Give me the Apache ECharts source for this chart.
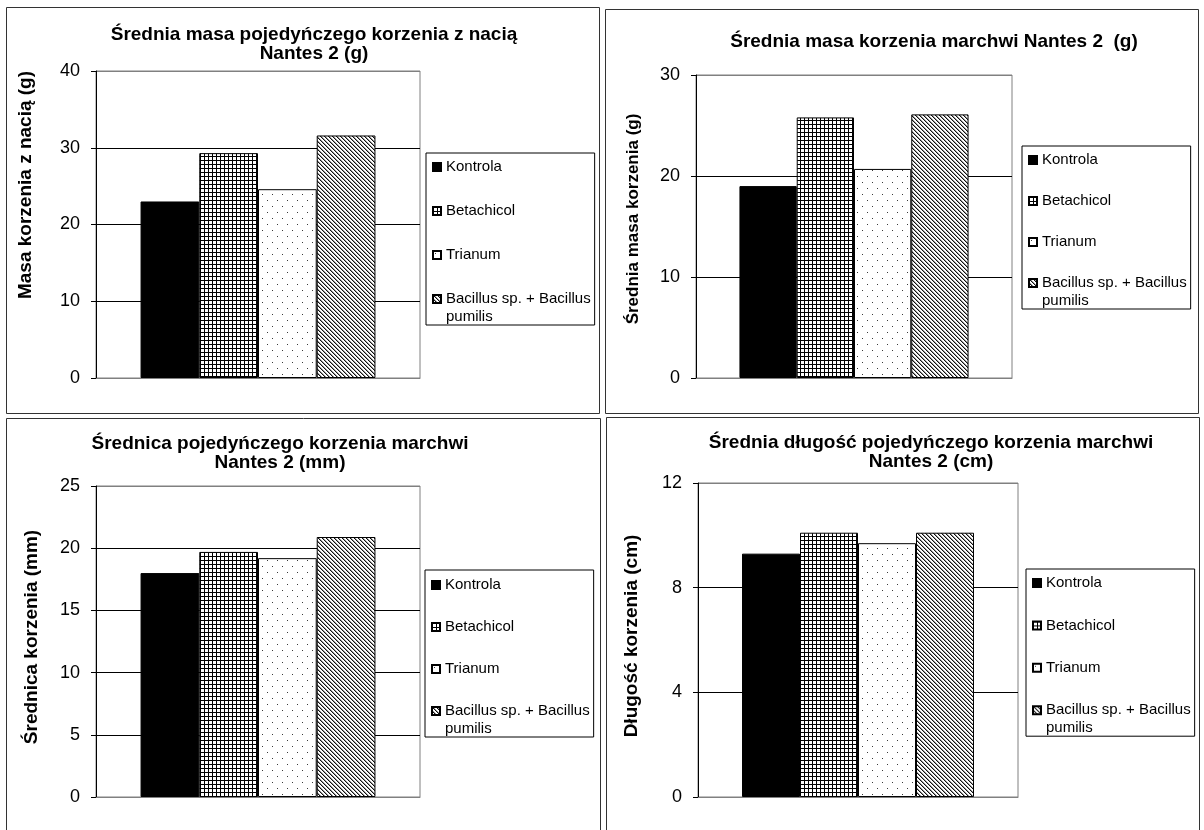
<!DOCTYPE html>
<html>
<head>
<meta charset="utf-8">
<script src="https://cdn.jsdelivr.net/npm/echarts@6/dist/echarts.min.js"></script>
<style>
  html, body { margin: 0; padding: 0; background: #fff; }
  #chart { width: 1204px; height: 830px; }
</style>
</head>
<body>
<div id="chart"></div>
<script>
// Treatments (legend entries) shared by all four panels
const categories = ['Kontrola', 'Betachicol', 'Trianum', 'Bacillus sp. + Bacillus pumilis'];
// Legend text, one array entry per printed line
const legendLines = [['Kontrola'], ['Betachicol'], ['Trianum'], ['Bacillus sp. + Bacillus', 'pumilis']];

// Mean values per treatment
const masaZNacia = [23.0, 29.3, 24.6, 31.6];   // g
const masaKorzenia = [19.0, 25.8, 20.7, 26.1]; // g
const srednica = [18.0, 19.7, 19.2, 20.9];     // mm
const dlugosc = [9.3, 10.1, 9.7, 10.1];        // cm

// Panel texts
const titles = [
  'Średnia masa pojedyńczego korzenia z nacią\nNantes 2 (g)',
  'Średnia masa korzenia marchwi Nantes 2  (g)',
  'Średnica pojedyńczego korzenia marchwi\nNantes 2 (mm)',
  'Średnia długość pojedyńczego korzenia marchwi\nNantes 2 (cm)'
];
const yNames = ['Masa korzenia z nacią (g)', 'Średnia masa korzenia (g)', 'Średnica korzenia (mm)', 'Długość korzenia (cm)'];

// Value-axis ranges
const yMax = [40, 30, 25, 12];
const yStep = [10, 10, 5, 4];

const datasets = [masaZNacia, masaKorzenia, srednica, dlugosc];

const FONT = '"Liberation Sans", Arial, Helvetica, sans-serif';

// Hatch fills drawn on small tiles
function tile(w, h, draw) {
  const c = document.createElement('canvas');
  c.width = w; c.height = h;
  const g = c.getContext('2d');
  g.fillStyle = '#fff';
  g.fillRect(0, 0, w, h);
  draw(g);
  return { image: c, repeat: 'repeat' };
}
const fillGrid = tile(4, 4, g => {
  g.fillStyle = '#000';
  g.fillRect(0, 0, 4, 1);
  g.fillRect(0, 0, 1, 4);
});
const fillDots = tile(10, 12, g => {
  g.fillStyle = '#3a3a3a';
  g.fillRect(2, 2, 1, 1);
  g.fillRect(7, 8, 1, 1);
});
const fillDiag = tile(4, 4, g => {
  for (let i = 0; i < 4; i++) {
    g.fillStyle = '#111';
    g.fillRect(i, i, 1, 1);
    g.fillStyle = '#999';
    g.fillRect((i + 1) % 4, i, 1, 1);
  }
});
const fills = ['#000', fillGrid, fillDots, fillDiag];

// Layout of each panel
const panels = [
  { grid: { left: 96, top: 71, width: 324, height: 307 },
    title: { x: 314, y: 25 }, yName: { x: 26, y: 185, size: 19 },
    legend: { left: 426, top: 153, gap: 26, pt: 5, pb: 17 },
    border: [6, 7, 593, 406] },
  { grid: { left: 696, top: 75, width: 316, height: 303 },
    title: { x: 934, y: 32 }, yName: { x: 633, y: 219, size: 17 },
    legend: { left: 1022, top: 146, gap: 23, pt: 5, pb: 17 },
    border: [605, 9, 593, 404] },
  { grid: { left: 96, top: 486, width: 324, height: 311 },
    title: { x: 280, y: 434 }, yName: { x: 32, y: 637, size: 19 },
    legend: { left: 425, top: 570, gap: 24, pt: 6, pb: 17 },
    border: [6, 418, 594, 430] },
  { grid: { left: 698, top: 483, width: 320, height: 314 },
    title: { x: 931, y: 433 }, yName: { x: 632, y: 636, size: 19 },
    legend: { left: 1026, top: 569, gap: 24.4, pt: 5, pb: 17 },
    border: [606, 417, 593, 430] }
];

const LEGEND_FONT = 15, LEGEND_LINE = 18, ICON = 8, ICON_GAP = 5, LEGEND_PAD_LEFT = 6;

const option = {
  animation: false,
  backgroundColor: '#fff',
  textStyle: { fontFamily: FONT },
  title: [], grid: [], xAxis: [], yAxis: [], legend: [], series: [], graphic: []
};

panels.forEach((p, k) => {
  option.title.push({
    text: titles[k],
    left: p.title.x, top: p.title.y, textAlign: 'center', padding: 0,
    textStyle: { fontFamily: FONT, fontSize: 19, fontWeight: 'bold', color: '#000', lineHeight: 19 }
  });
  option.grid.push(Object.assign({
    show: true, borderColor: '#808080', borderWidth: 1, backgroundColor: 'transparent', containLabel: false
  }, p.grid));
  option.xAxis.push({
    gridIndex: k, type: 'category', data: [''],
    axisLine: { lineStyle: { color: '#808080', width: 1 } },
    axisTick: { show: false }, axisLabel: { show: false }, splitLine: { show: false }
  });
  const nLines = yMax[k] / yStep[k] + 1;
  const lineColors = [];
  for (let i = 0; i < nLines; i++) lineColors.push(i === 0 || i === nLines - 1 ? '#808080' : '#000');
  option.yAxis.push({
    gridIndex: k, type: 'value', min: 0, max: yMax[k], interval: yStep[k],
    axisLine: { show: true, lineStyle: { color: '#000', width: 1 } },
    axisTick: { show: true, length: 5, lineStyle: { color: '#000' } },
    axisLabel: { margin: 16, fontSize: 18, color: '#000', fontFamily: FONT },
    splitLine: { show: true, lineStyle: { color: lineColors, width: 1 } }
  });
  option.legend.push({
    orient: 'vertical', left: p.legend.left, top: p.legend.top,
    icon: 'rect', itemWidth: ICON, itemHeight: ICON, itemGap: p.legend.gap,
    padding: [p.legend.pt, 4, p.legend.pb, LEGEND_PAD_LEFT],
    backgroundColor: '#fff', borderColor: '#000', borderWidth: 1, borderRadius: 0,
    selectedMode: false,
    textStyle: { fontSize: LEGEND_FONT, lineHeight: LEGEND_LINE, color: '#000', fontFamily: FONT },
    data: categories.slice(),
    formatter: name => legendLines[categories.indexOf(name)][0]
  });
  // continuation line of the last legend entry, aligned under its first line
  const last = categories.length - 1;
  const firstLineY = p.legend.top + p.legend.pt + last * (LEGEND_LINE + p.legend.gap) + LEGEND_LINE / 2;
  legendLines[last].slice(1).forEach((line, j) => {
    option.graphic.push({
      type: 'text', silent: true, z: 200,
      x: p.legend.left + LEGEND_PAD_LEFT + ICON + ICON_GAP + 1,
      y: firstLineY + (j + 1) * LEGEND_LINE,
      style: {
        text: line, fill: '#000', font: LEGEND_FONT + 'px ' + FONT,
        align: 'left', verticalAlign: 'middle'
      }
    });
  });
  categories.forEach((name, i) => {
    option.series.push({
      type: 'bar', name, xAxisIndex: k, yAxisIndex: k,
      data: [datasets[k][i]],
      barGap: '0%', barCategoryGap: '27.5%',
      itemStyle: { color: fills[i], borderColor: '#000', borderWidth: 1 },
      emphasis: { disabled: true }
    });
  });
  option.graphic.push({
    type: 'rect', silent: true, z: 100,
    shape: { x: p.border[0] + 0.5, y: p.border[1] + 0.5, width: p.border[2], height: p.border[3] },
    style: { fill: 'none', stroke: '#333', lineWidth: 1 }
  });
  option.graphic.push({
    type: 'text', silent: true, z: 100,
    x: p.yName.x, y: p.yName.y, rotation: Math.PI / 2,
    style: {
      text: yNames[k], fill: '#000',
      font: 'bold ' + p.yName.size + 'px ' + FONT,
      align: 'center', verticalAlign: 'middle'
    }
  });
});

const chart = echarts.init(document.getElementById('chart'), null, { renderer: 'canvas' });
chart.setOption(option);
</script>
</body>
</html>
